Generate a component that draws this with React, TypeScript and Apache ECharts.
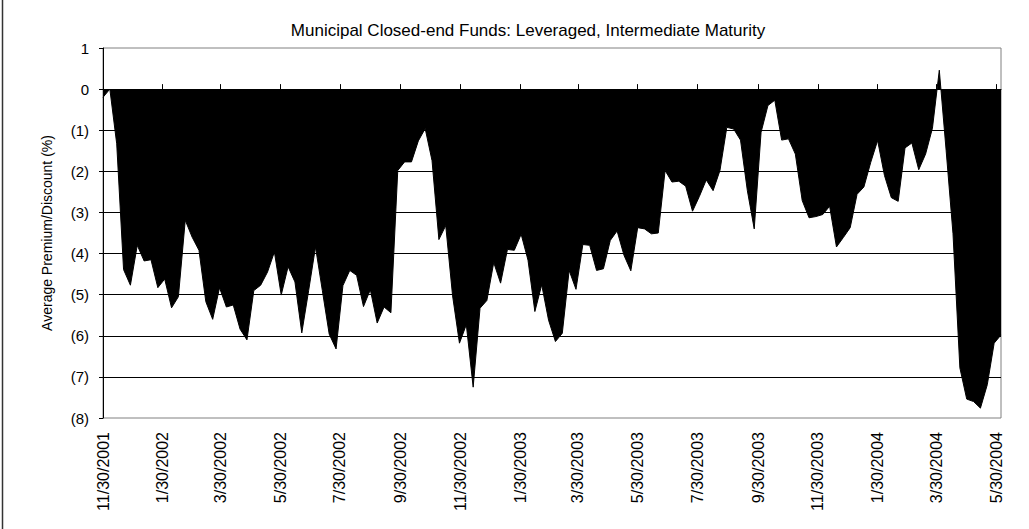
import React, { useEffect, useRef } from "react";
import * as echarts from "echarts";

const chartTitle = "Municipal Closed-end Funds: Leveraged, Intermediate Maturity";
const yAxisTitle = "Average Premium/Discount (%)";

// weekly observation dates (M/D/YYYY)
const dates = [
  "11/30/2001", "12/7/2001", "12/14/2001", "12/21/2001", "12/28/2001",
  "1/4/2002", "1/11/2002", "1/18/2002", "1/25/2002", "2/1/2002", "2/8/2002", "2/15/2002", "2/22/2002",
  "3/1/2002", "3/8/2002", "3/15/2002", "3/22/2002", "3/29/2002", "4/5/2002", "4/12/2002", "4/19/2002",
  "4/26/2002", "5/3/2002", "5/10/2002", "5/17/2002", "5/24/2002", "5/31/2002", "6/7/2002", "6/14/2002",
  "6/21/2002", "6/28/2002", "7/5/2002", "7/12/2002", "7/19/2002", "7/26/2002", "8/2/2002", "8/9/2002",
  "8/16/2002", "8/23/2002", "8/30/2002", "9/6/2002", "9/13/2002", "9/20/2002", "9/27/2002", "10/4/2002",
  "10/11/2002", "10/18/2002", "10/25/2002", "11/1/2002", "11/8/2002", "11/15/2002", "11/22/2002",
  "11/29/2002", "12/6/2002", "12/13/2002", "12/20/2002", "12/27/2002",
  "1/3/2003", "1/10/2003", "1/17/2003", "1/24/2003", "1/31/2003", "2/7/2003", "2/14/2003", "2/21/2003",
  "2/28/2003", "3/7/2003", "3/14/2003", "3/21/2003", "3/28/2003", "4/4/2003", "4/11/2003", "4/18/2003",
  "4/25/2003", "5/2/2003", "5/9/2003", "5/16/2003", "5/23/2003", "5/30/2003", "6/6/2003", "6/13/2003",
  "6/20/2003", "6/27/2003", "7/4/2003", "7/11/2003", "7/18/2003", "7/25/2003", "8/1/2003", "8/8/2003",
  "8/15/2003", "8/22/2003", "8/29/2003", "9/5/2003", "9/12/2003", "9/19/2003", "9/26/2003", "10/3/2003",
  "10/10/2003", "10/17/2003", "10/24/2003", "10/31/2003", "11/7/2003", "11/14/2003", "11/21/2003",
  "11/28/2003", "12/5/2003", "12/12/2003", "12/19/2003", "12/26/2003",
  "1/2/2004", "1/9/2004", "1/16/2004", "1/23/2004", "1/30/2004", "2/6/2004", "2/13/2004", "2/20/2004",
  "2/27/2004", "3/5/2004", "3/12/2004", "3/19/2004", "3/26/2004", "4/2/2004", "4/9/2004", "4/16/2004",
  "4/23/2004", "4/30/2004", "5/7/2004", "5/14/2004", "5/21/2004", "5/28/2004", "6/4/2004",
];

// average premium (+) / discount (-) in percent
const values = [
  -0.2, 0.0, -1.33, -4.39, -4.77, -3.8, -4.18, -4.15, -4.83, -4.62, -5.32, -5.05, -3.19,
  -3.6, -3.92, -5.17, -5.6, -4.83, -5.3, -5.25, -5.84, -6.1, -4.9, -4.77, -4.45, -3.96,
  -5.01, -4.32, -4.69, -5.93, -4.9, -3.84, -4.9, -5.96, -6.32, -4.78, -4.41, -4.53, -5.29,
  -4.88, -5.69, -5.3, -5.44, -1.98, -1.77, -1.77, -1.26, -0.96, -1.74, -3.66, -3.32, -5.03,
  -6.18, -5.73, -7.25, -5.33, -5.14, -4.22, -4.72, -3.9, -3.92, -3.53, -4.16, -5.41, -4.76,
  -5.62, -6.14, -5.94, -4.41, -4.87, -3.78, -3.8, -4.41, -4.37, -3.68, -3.45, -4.04, -4.42,
  -3.37, -3.4, -3.52, -3.5, -1.98, -2.26, -2.24, -2.36, -2.97, -2.61, -2.21, -2.47, -1.98,
  -0.93, -0.97, -1.24, -2.47, -3.4, -1.05, -0.4, -0.27, -1.24, -1.21, -1.58, -2.71, -3.13,
  -3.1, -3.05, -2.85, -3.84, -3.61, -3.37, -2.56, -2.38, -1.78, -1.25, -2.1, -2.64, -2.73,
  -1.43, -1.31, -1.96, -1.58, -0.95, 0.46, -1.5, -3.52, -6.78, -7.54, -7.6, -7.76, -7.19,
  -6.18, -5.98,
];

const xTickLabels = [
  "11/30/2001", "1/30/2002", "3/30/2002", "5/30/2002", "7/30/2002", "9/30/2002",
  "11/30/2002", "1/30/2003", "3/30/2003", "5/30/2003", "7/30/2003", "9/30/2003",
  "11/30/2003", "1/30/2004", "3/30/2004", "5/30/2004",
];

const yMin = -8;
const yMax = 1;

const FONT = "Arial, 'Liberation Sans', Helvetica, sans-serif";

function parseMDY(s: string): number {
  const [m, d, y] = s.split("/").map(Number);
  return Date.UTC(y, m - 1, d);
}
const t0 = parseMDY(dates[0]);
const toDay = (s: string) => Math.round((parseMDY(s) - t0) / 86400000);

export default function App() {
  const ref = useRef<HTMLDivElement>(null);

  useEffect(() => {
    document.body.style.margin = "0";
    if (!ref.current) return;
    const chart = echarts.init(ref.current, undefined, { renderer: "svg" });

    const tickDays = xTickLabels.map(toDay);
    const labelByDay = new Map<number, string>();
    xTickLabels.forEach((l) => labelByDay.set(toDay(l), l));
    const seriesData = dates.map((d, i) => [toDay(d), values[i]]);
    const xMax = toDay(dates[dates.length - 1]);

    chart.setOption({
      animation: false,
      backgroundColor: "#ffffff",
      title: {
        text: chartTitle,
        left: 523,
        top: 17,
        textAlign: "center",
        textStyle: { fontFamily: FONT, fontSize: 17, fontWeight: "normal", color: "#000" },
      },
      grid: {
        left: 103,
        right: 28,
        top: 48,
        bottom: 111,
        show: true,
        borderColor: "#808080",
        borderWidth: 1,
        backgroundColor: "transparent",
      },
      xAxis: [
        {
          type: "value",
          min: 0,
          max: xMax,
          position: "bottom",
          axisLine: { show: true, onZero: true, lineStyle: { color: "#000", width: 1 } },
          axisTick: {
            show: true,
            inside: true,
            length: 5,
            customValues: tickDays,
            lineStyle: { color: "#000", width: 1 },
          },
          axisLabel: { show: false },
          splitLine: { show: false },
          z: 5,
        },
        {
          type: "value",
          min: 0,
          max: xMax,
          position: "bottom",
          axisLine: { show: false, onZero: false },
          axisTick: { show: false },
          axisLabel: {
            show: true,
            customValues: tickDays,
            rotate: 90,
            margin: 14,
            color: "#000",
            fontFamily: FONT,
            fontSize: 16,
            formatter: (v: number) => labelByDay.get(Math.round(v)) ?? "",
          },
          splitLine: { show: false },
        },
      ],
      yAxis: {
        type: "value",
        min: yMin,
        max: yMax,
        interval: 1,
        name: yAxisTitle,
        nameLocation: "middle",
        nameRotate: 90,
        nameGap: 49,
        nameTextStyle: { fontFamily: FONT, fontSize: 14, color: "#000" },
        axisLine: { show: true, onZero: false, lineStyle: { color: "#000", width: 1 } },
        axisTick: { show: true, inside: false, length: 4, lineStyle: { color: "#000" } },
        axisLabel: {
          margin: 14,
          color: "#000",
          fontFamily: FONT,
          fontSize: 15,
          formatter: (v: number) => (v < 0 ? `(${-v})` : `${v}`),
        },
        splitLine: {
          show: true,
          showMinLine: false,
          showMaxLine: false,
          lineStyle: { color: "#000", width: 1 },
        },
      },
      graphic: [
        {
          type: "line",
          shape: { x1: 2.5, y1: 0, x2: 2.5, y2: 529 },
          style: { stroke: "#333", lineWidth: 1.5 },
        },
      ],
      series: [
        {
          type: "line",
          xAxisIndex: 0,
          data: seriesData,
          symbol: "none",
          lineStyle: { color: "#000", width: 1 },
          areaStyle: { color: "#000", opacity: 1, origin: 0 },
          z: 3,
        },
      ],
    });

    return () => chart.dispose();
  }, []);

  return (
    <div
      ref={ref}
      style={{ position: "fixed", left: 0, top: 0, width: 1029, height: 529 }}
    />
  );
}
